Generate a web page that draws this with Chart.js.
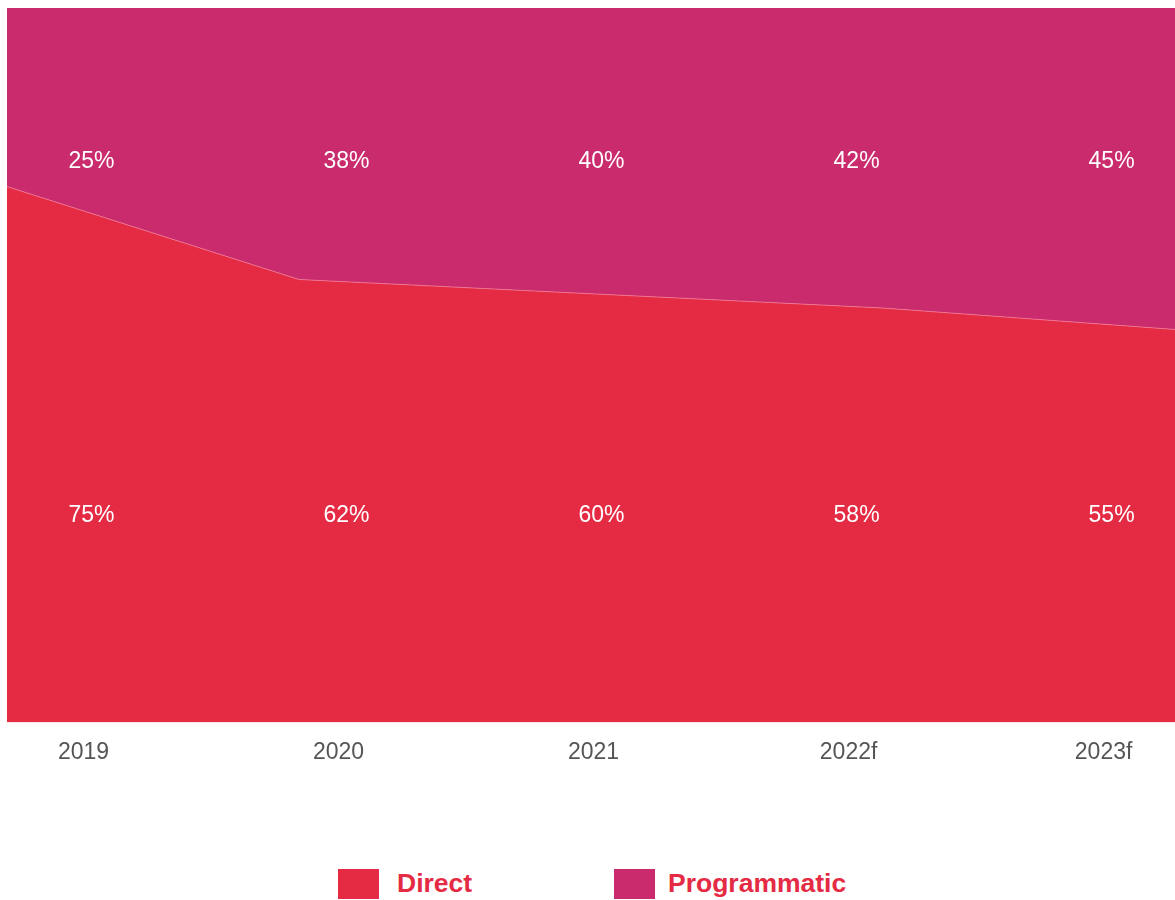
<!DOCTYPE html>
<html>
<head>
<meta charset="utf-8">
<script src="https://cdn.jsdelivr.net/npm/chart.js@4.4.1/dist/chart.umd.min.js"></script>
<style>
    body { margin: 0; background: #fff; font-family: "Liberation Sans", Arial, sans-serif; }
    #wrap { position: absolute; left: 0; top: 0; width: 1175px; height: 800px; }
    .legend { position: absolute; top: 868px; display: flex; align-items: center; }
    .legend span.box { display: inline-block; width: 41px; height: 30px; margin-right: 18px; }
    .legend span.txt { font-weight: bold; font-size: 26.5px; color: #e52b44; }
</style>
</head>
<body>
<div id="wrap"><canvas id="shareChart"></canvas></div>
<div class="legend" style="left:338px"><span class="box" style="background:#e52b44"></span><span class="txt">Direct</span></div>
<div class="legend" style="left:614px"><span class="box" style="background:#c92b6d"></span><span class="txt" style="margin-left:-5px">Programmatic</span></div>
<script>
const years = ["2019", "2020", "2021", "2022f", "2023f"];
const direct = [75, 62, 60, 58, 55];
const programmatic = [25, 38, 40, 42, 45];

// labels with value in %
const pctLabels = {
    id: "pctLabels",
    afterDatasetsDraw(chart) {
        const ctx = chart.ctx;
        const xl = chart.scales.xl;
        const y = chart.scales.y;
        ctx.save();
        ctx.fillStyle = "#ffffff";
        ctx.font = "23px 'Liberation Sans', Arial, sans-serif";
        ctx.textAlign = "center";
        ctx.textBaseline = "middle";
        years.forEach((_, i) => {
            const x = xl.getPixelForValue(i) + 8;
            ctx.fillText(programmatic[i] + "%", x, y.getPixelForValue(78.5));
            ctx.fillText(direct[i] + "%", x, y.getPixelForValue(29));
        });
        ctx.restore();
    },
};

new Chart(document.getElementById("shareChart").getContext("2d"), {
    type: "line",
    data: {
        datasets: [
            {
                label: "Direct",
                data: direct.map((v, i) => ({ x: i, y: v })),
                backgroundColor: "#e52b44",
                borderColor: "rgba(240,120,150,0.8)",
                borderWidth: 1,
                pointRadius: 0,
                fill: "origin",
                tension: 0,
            },
            {
                label: "Programmatic",
                data: programmatic.map((v, i) => ({ x: i, y: v })),
                backgroundColor: "#c92b6d",
                borderWidth: 0,
                pointRadius: 0,
                fill: "-1",
                tension: 0,
            },
        ],
    },
    options: {
        responsive: true,
        maintainAspectRatio: false,
        animation: false,
        layout: { padding: { left: 7, top: 8, right: 0, bottom: 18 } },
        plugins: { legend: { display: false }, tooltip: { enabled: false } },
        scales: {
            x: {
                type: "linear",
                min: 0,
                max: 4,
                display: false,
            },
            xl: {
                type: "linear",
                position: "bottom",
                min: -0.3,
                max: 4.28,
                afterBuildTicks: (axis) => {
                    axis.ticks = years.map((_, i) => ({ value: i }));
                },
                grid: { display: false, drawTicks: false },
                border: { display: false },
                ticks: {
                    padding: 16,
                    color: "#555555",
                    font: { family: "'Liberation Sans', Arial, sans-serif", size: 23 },
                    callback: (v) => years[v],
                    maxRotation: 0,
                    autoSkip: false,
                },
            },
            y: {
                stacked: true,
                min: 0,
                max: 100,
                display: false,
            },
        },
    },
    plugins: [pctLabels],
});
</script>
</body>
</html>
